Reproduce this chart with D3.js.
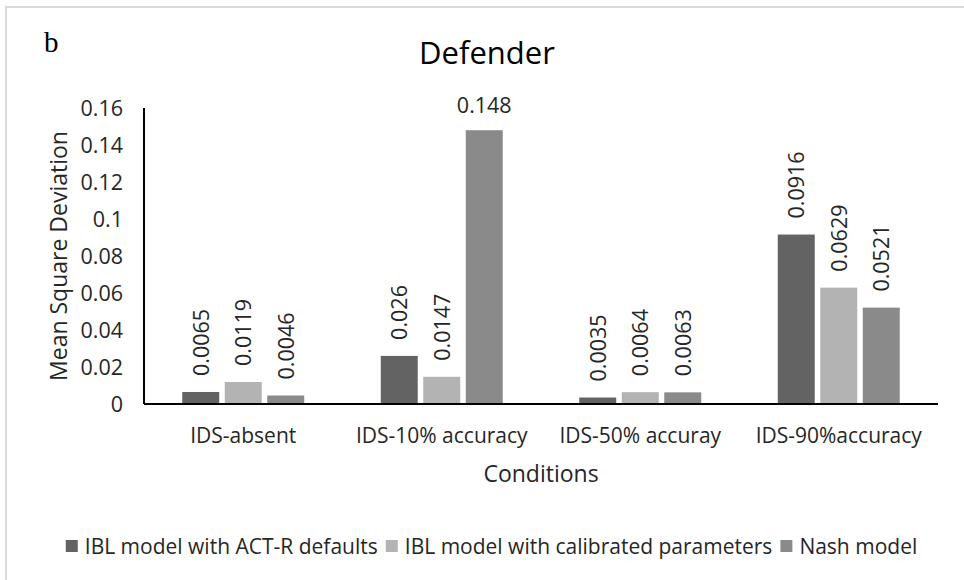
<!DOCTYPE html>
<html>
<head>
<meta charset="utf-8">
<script src="https://cdn.jsdelivr.net/npm/d3@7"></script>
<style>
  body { margin: 0; background: #fff; }
  svg text { font-family: "Open Sans", sans-serif; fill: #262626; }
</style>
</head>
<body>
<div class="js-chart"></div>
<script>
let categories = ["IDS-absent", "IDS-10% accuracy", "IDS-50% accuray", "IDS-90%accuracy"];
let seriesNames = ["IBL model with ACT-R defaults", "IBL model with calibrated parameters", "Nash model"];
let actrDefaults = [0.0065, 0.026, 0.0035, 0.0916];
let calibrated = [0.0119, 0.0147, 0.0064, 0.0629];
let nash = [0.0046, 0.148, 0.0063, 0.0521];
let labelText = [
  ["0.0065", "0.026", "0.0035", "0.0916"],
  ["0.0119", "0.0147", "0.0064", "0.0629"],
  ["0.0046", "0.148", "0.0063", "0.0521"]
];
let yTicks = [0, 0.02, 0.04, 0.06, 0.08, 0.1, 0.12, 0.14, 0.16];
let colors = ["#636363", "#b3b3b3", "#8a8a8a"];

function drawChart() {
  var width = 964;
  var height = 580;
  var plotLeft = 144, plotRight = 938, plotTop = 108, plotBottom = 404;
  var series = [actrDefaults, calibrated, nash];

  var svg = d3.select('.js-chart').append('svg')
    .attr('width', width)
    .attr('height', height);

  // frame (only the top and left edges show)
  svg.append('path')
    .attr('d', `M6,${height}V7H${width}`)
    .attr('fill', 'none')
    .attr('stroke', '#d9d9d9')
    .attr('stroke-width', 2);

  svg.append('text')
    .attr('x', 44)
    .attr('y', 52)
    .style('font-family', '"Liberation Serif", serif')
    .style('font-size', '29px')
    .style('fill', '#000')
    .text('b');

  svg.append('text')
    .attr('x', 487)
    .attr('y', 64)
    .attr('text-anchor', 'middle')
    .style('font-size', '31px')
    .style('fill', '#000')
    .text('Defender');

  var x0 = d3.scaleBand().domain(categories).range([plotLeft, plotRight]);
  var x1 = d3.scaleBand().domain(d3.range(3)).range([0, 122]).paddingInner(0.13);
  var y = d3.scaleLinear().domain([0, 0.16]).range([plotBottom, plotTop]);

  // y tick labels
  svg.append('g')
    .selectAll('text')
    .data(yTicks)
    .enter()
    .append('text')
    .attr('x', 123)
    .attr('y', (d) => y(d))
    .attr('dy', '0.36em')
    .attr('text-anchor', 'end')
    .style('font-size', '21.5px')
    .text((d) => d3.format('~g')(d));

  var groups = svg.append('g')
    .selectAll('g')
    .data(categories)
    .enter()
    .append('g')
    .attr('transform', (d) => `translate(${x0(d) + (x0.bandwidth() - 122) / 2},0)`);

  groups.selectAll('rect')
    .data((d, i) => series.map((s, k) => ({k: k, v: s[i], i: i})))
    .enter()
    .append('rect')
    .attr('x', (d) => x1(d.k))
    .attr('y', (d) => y(d.v))
    .attr('width', x1.bandwidth())
    .attr('height', (d) => y(0) - y(d.v))
    .attr('fill', (d) => colors[d.k]);

  // value labels: rotated unless they would run past the top of the plot
  groups.selectAll('text')
    .data((d, i) => series.map((s, k) => ({k: k, v: s[i], i: i})))
    .enter()
    .append('text')
    .style('font-size', '21.5px')
    .each(function (d) {
      var t = d3.select(this).text(labelText[d.k][d.i]);
      var cx = x1(d.k) + x1.bandwidth() / 2;
      if (y(d.v) - 16 - 68 < plotTop - 20) {
        t.attr('x', cx).attr('y', y(d.v) - 17).attr('text-anchor', 'middle');
      } else {
        t.attr('transform', `translate(${cx + 8},${y(d.v) - 16})rotate(-90)`)
          .attr('text-anchor', 'start');
      }
    });

  // axes lines
  svg.append('line')
    .attr('x1', plotLeft).attr('x2', plotLeft)
    .attr('y1', plotTop).attr('y2', plotBottom)
    .attr('stroke', '#000').attr('stroke-width', 2);
  svg.append('line')
    .attr('x1', plotLeft).attr('x2', plotRight)
    .attr('y1', plotBottom).attr('y2', plotBottom)
    .attr('stroke', '#000').attr('stroke-width', 2);

  // category labels
  svg.append('g')
    .selectAll('text')
    .data(categories)
    .enter()
    .append('text')
    .attr('x', (d) => x0(d) + x0.bandwidth() / 2)
    .attr('y', 443)
    .attr('text-anchor', 'middle')
    .style('font-size', '21px')
    .text((d) => d);

  svg.append('text')
    .attr('x', (plotLeft + plotRight) / 2)
    .attr('y', 482)
    .attr('text-anchor', 'middle')
    .style('font-size', '23px')
    .text('Conditions');

  svg.append('text')
    .attr('transform', `translate(67,${(plotTop + plotBottom) / 2})rotate(-90)`)
    .attr('text-anchor', 'middle')
    .style('font-size', '23px')
    .text('Mean Square Deviation');

  // legend, centred under the chart
  var legend = svg.append('g');
  var lx = 0;
  seriesNames.forEach((name, k) => {
    var g = legend.append('g').attr('transform', `translate(${lx},0)`);
    g.append('rect')
      .attr('x', 0).attr('y', 540)
      .attr('width', 12).attr('height', 12)
      .attr('fill', colors[k]);
    var t = g.append('text')
      .attr('x', 19).attr('y', 554)
      .style('font-size', '21px')
      .text(name);
    lx += 19 + t.node().getComputedTextLength() + (k < 2 ? 8 : 0);
  });
  legend.attr('transform', `translate(${491.5 - lx / 2},0)`);
}

drawChart();
</script>
</body>
</html>
